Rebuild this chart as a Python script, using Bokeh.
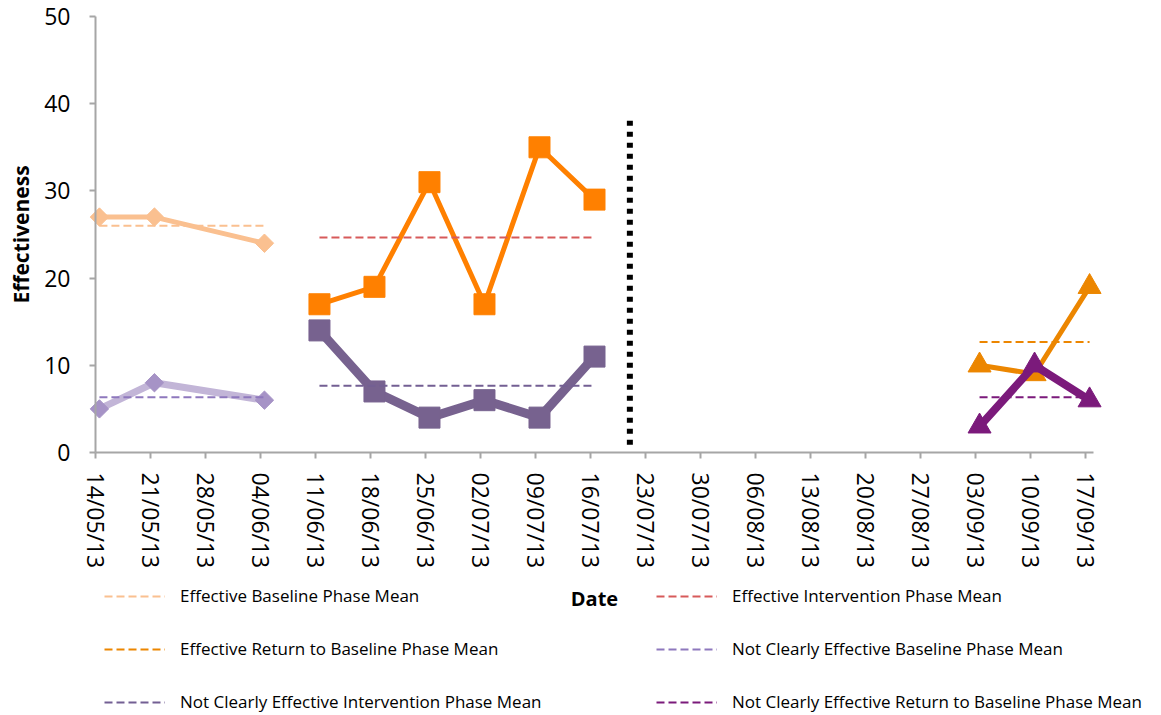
from datetime import datetime, timedelta
import numpy as np
from bokeh.plotting import figure
from bokeh.models import Range1d, FixedTicker, Legend, LegendItem, DatetimeTickFormatter
from bokeh.embed import file_html
from bokeh.resources import INLINE

# ---------------- data ----------------
tick_labels = ["14/05/13", "21/05/13", "28/05/13", "04/06/13", "11/06/13", "18/06/13",
               "25/06/13", "02/07/13", "09/07/13", "16/07/13", "23/07/13", "30/07/13",
               "06/08/13", "13/08/13", "20/08/13", "27/08/13", "03/09/13", "10/09/13",
               "17/09/13"]
y_ticks = [0, 10, 20, 30, 40, 50]

baseline_dates = ["14/05/13", "21/05/13", "04/06/13"]
eff_baseline = [27, 27, 24]
nce_baseline = [5, 8, 6]

intervention_dates = ["11/06/13", "18/06/13", "25/06/13", "02/07/13", "09/07/13", "16/07/13"]
eff_intervention = [17, 19, 31, 17, 35, 29]
nce_intervention = [14, 7, 4, 6, 4, 11]

return_dates = ["03/09/13", "10/09/13", "17/09/13"]
eff_return = [10, 9, 19]
nce_return = [3, 10, 6]

phase_change_date = "21/07/13"
phase_change_y = [0.9, 38.3]

legend_labels = ["Effective Baseline Phase Mean",
                 "Effective Intervention Phase Mean",
                 "Effective Return to Baseline Phase Mean",
                 "Not Clearly Effective Baseline Phase Mean",
                 "Not Clearly Effective Intervention Phase Mean",
                 "Not Clearly Effective Return to Baseline Phase Mean"]

# ---------------- helpers ----------------
def to_dt(s):
    return datetime.strptime(s, "%d/%m/%y")

HALF = timedelta(hours=12)   # points sit in the middle of their day (date axis)

def pos(dates):
    return [to_dt(d) + HALF for d in dates]

EPOCH = datetime(1970, 1, 1)
def ms(dt):
    return (dt - EPOCH).total_seconds() * 1000.0

tick_dts = [to_dt(t) for t in tick_labels]

FONT = "Open Sans"
W, H = 1161, 715
# plotting area inside the canvas (pixels)
PL, PR, PT, PB = 95, 1093, 16, 452

x0 = tick_dts[0]
x1 = tick_dts[-1] + timedelta(days=1)
span = x1 - x0
px_per = (PR - PL)
xr = Range1d(x0 - span * (PL / px_per), x1 + span * ((W - PR) / px_per))
ypx = (PB - PT) / 50.0
yr = Range1d(0 - (H - PB) / ypx, 50 + PT / ypx)

p = figure(width=W, height=H, x_axis_type="datetime", x_range=xr, y_range=yr,
           output_backend="svg", toolbar_location=None,
           min_border_left=0, min_border_right=0, min_border_top=0, min_border_bottom=0)
p.grid.visible = False
p.outline_line_color = None
p.background_fill_color = "white"
p.border_fill_color = "white"

AX = "#a6a6a6"
for ax in (p.xaxis[0], p.yaxis[0]):
    ax.axis_line_color = AX
    ax.axis_line_width = 2
    ax.major_tick_line_color = AX
    ax.major_tick_line_width = 2
    ax.major_tick_in = 0
    ax.major_tick_out = 6
    ax.minor_tick_line_color = None
    ax.major_label_text_font = FONT
    ax.major_label_text_font_size = "23px"
    ax.major_label_text_color = "black"
    ax.axis_label_text_font = FONT
    ax.axis_label_text_font_style = "bold"
    ax.axis_label_text_color = "black"

p.yaxis.ticker = FixedTicker(ticks=y_ticks)
p.yaxis.bounds = (y_ticks[0], y_ticks[-1])
p.yaxis.fixed_location = ms(x0)
p.yaxis.major_label_standoff = 19
p.yaxis.axis_label = "Effectiveness"
p.yaxis.axis_label_text_font_size = "21px"
p.yaxis.axis_label_standoff = 6

p.xaxis.ticker = FixedTicker(ticks=[ms(d) for d in tick_dts])
p.xaxis.bounds = (ms(x0), ms(x1))
p.xaxis.fixed_location = 0
fmt = "%d/%m/%y"
p.xaxis.formatter = DatetimeTickFormatter(days=fmt, months=fmt, years=fmt, hours=fmt,
                                          hourmin=fmt, minutes=fmt, minsec=fmt,
                                          seconds=fmt, milliseconds=fmt, microseconds=fmt)
p.xaxis.major_label_orientation = "vertical"
p.xaxis.major_label_standoff = 14
p.xaxis.axis_label = "Date"
p.xaxis.axis_label_text_font_size = "20px"
p.xaxis.axis_label_standoff = 14

# ---------------- series ----------------
PEACH = "#fac090"
LPURP_LINE = "#c2b5d7"
LPURP = "#a693c6"
ORANGE = "#ff8000"
DPURP = "#77628f"
ORANGE2 = "#ec8600"
PLUM = "#7b1a7b"

MEAN_COLORS = [PEACH, "#d75a5a", ORANGE2, "#8e78bd", "#735f93", PLUM]

bx = pos(baseline_dates)
ix = pos(intervention_dates)
rx = pos(return_dates)

# baseline (diamonds)
p.line(bx, eff_baseline, line_color=PEACH, line_width=5)
p.scatter(bx, eff_baseline, marker="square", angle=np.pi / 4, size=13,
          fill_color=PEACH, line_color=PEACH)
p.line(bx, nce_baseline, line_color=LPURP_LINE, line_width=7)
p.scatter(bx, nce_baseline, marker="square", angle=np.pi / 4, size=13,
          fill_color=LPURP, line_color=LPURP)

# intervention (squares)
p.line(ix, eff_intervention, line_color=ORANGE, line_width=5)
p.scatter(ix, eff_intervention, marker="square", size=21, fill_color=ORANGE, line_color=ORANGE)
p.line(ix, nce_intervention, line_color=DPURP, line_width=9)
p.scatter(ix, nce_intervention, marker="square", size=21, fill_color=DPURP, line_color=DPURP)

# return to baseline (triangles)
p.line(rx, eff_return, line_color=ORANGE2, line_width=5)
p.scatter(rx, eff_return, marker="triangle", size=23, fill_color=ORANGE2, line_color=ORANGE2)
p.line(rx, nce_return, line_color=PLUM, line_width=8)
p.scatter(rx, nce_return, marker="triangle", size=23, fill_color=PLUM, line_color=PLUM)

# phase change line
pcx = to_dt(phase_change_date)
p.line([pcx, pcx], phase_change_y, line_color="black", line_width=6, line_dash="5 6")

# mean lines
DASH = "8 4"
def mean_line(xs, vals, color):
    m = float(np.mean(vals))
    return p.line([xs[0], xs[-1]], [m, m], line_color=color, line_width=2, line_dash=DASH)

means = [mean_line(bx, eff_baseline, MEAN_COLORS[0]),
         mean_line(ix, eff_intervention, MEAN_COLORS[1]),
         mean_line(rx, eff_return, MEAN_COLORS[2]),
         mean_line(bx, nce_baseline, MEAN_COLORS[3]),
         mean_line(ix, nce_intervention, MEAN_COLORS[4]),
         mean_line(rx, nce_return, MEAN_COLORS[5])]

def make_legend(idx, vx, vy):
    items = [LegendItem(label=legend_labels[i], renderers=[means[i]]) for i in idx]
    lg = Legend(items=items, location=(vx, vy), orientation="vertical",
                glyph_width=61, glyph_height=20, label_height=20, spacing=30,
                label_standoff=15, padding=0, margin=0,
                border_line_color=None, background_fill_alpha=0,
                label_text_font=FONT, label_text_font_size="17px",
                label_text_color="black")
    p.add_layout(lg, "center")

make_legend([0, 2, 4], 104, 2)
make_legend([1, 3, 5], 656, 2)

open("out.html", "w").write(file_html(p, INLINE))
